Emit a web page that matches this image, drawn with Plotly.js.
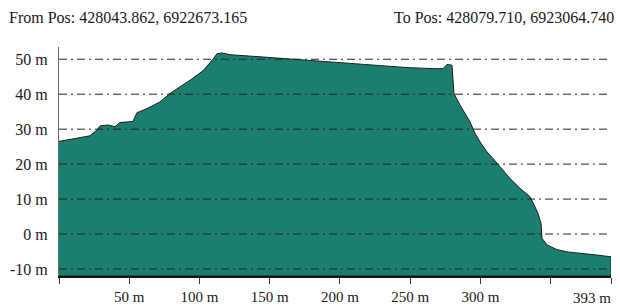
<!DOCTYPE html>
<html>
<head>
<meta charset="utf-8">
<script src="https://cdn.plot.ly/plotly-3.0.1.min.js"></script>
<style>html,body{margin:0;padding:0;background:#fff;}#chart{width:620px;height:307px;}</style>
</head>
<body>
<div id="chart"></div>
<script>
// Profile data: distance along the line (m) and elevation (m)
const distance = [0, 4.3, 15.0, 22.1, 27.1, 29.2, 34.9, 39.9, 43.4, 52.7, 55.5, 62.7, 71.9, 79.0, 93.3, 102.5, 109.6, 112.5, 116.0, 121.7, 143.1, 175.1, 187.2, 198.6, 210.7, 222.8, 234.2, 248.5, 267.7, 273.5, 276.2, 279.8, 281.2, 285.5, 292.6, 296.2, 299.7, 304.7, 309.0, 314.0, 321.1, 328.2, 335.3, 338.9, 341.0, 343.2, 343.9, 347.4, 354.3, 361.7, 373.1, 382.9, 393.0];
const elevation = [26.5, 26.8, 27.7, 28.1, 29.8, 30.9, 31.2, 30.7, 31.9, 32.2, 34.7, 35.9, 37.8, 40.2, 44.0, 46.7, 50.0, 51.6, 51.8, 51.3, 50.7, 49.7, 49.4, 49.0, 48.6, 48.3, 48.0, 47.6, 47.3, 47.3, 48.5, 48.3, 40.2, 36.9, 32.1, 28.8, 26.4, 23.5, 21.6, 19.2, 15.9, 13.1, 10.7, 7.8, 5.9, 3.0, -1.2, -3.1, -4.4, -5.1, -5.5, -6.0, -6.5];

const fromLabel = "From Pos: 428043.862, 6922673.165";
const toLabel = "To Pos: 428079.710, 6923064.740";

const xTickVals = [0, 50, 100, 150, 200, 250, 300, 350, 393];
const xTickText = ["", "50 m", "100 m", "150 m", "200 m", "250 m", "300 m", "", ""];
const endLabel = "393 m";
const yTickVals = [-10, 0, 10, 20, 30, 40, 50];
const yTickText = ["-10 m", "0 m", "10 m", "20 m", "30 m", "40 m", "50 m"];
const yRange = [-12, 53.5];

const xMin = distance[0], xMax = distance[distance.length - 1];

const profile = {
  x: distance.concat([xMax, xMin]),
  y: elevation.concat([yRange[0], yRange[0]]),
  type: 'scatter', mode: 'lines',
  fill: 'toself', fillcolor: '#1b7f6f',
  line: {color: '#1e1e1e', width: 1},
  hoverinfo: 'skip', showlegend: false
};

const gridShapes = yTickVals.map(v => ({
  type: 'line', xref: 'paper', yref: 'y', x0: 0, x1: 1, y0: v, y1: v,
  layer: 'above', line: {color: '#222', width: 1, dash: '8px,4px,2px,4px'}
}));

const fam = 'Liberation Serif, Times New Roman, serif';
const f = (size) => ({family: fam, size: size, color: '#1a1a1a'});

const layout = {
  width: 620, height: 307,
  margin: {l: 59, r: 9, t: 47, b: 31, pad: 0},
  paper_bgcolor: '#fff', plot_bgcolor: '#fff',
  showlegend: false,
  font: f(15),
  xaxis: {
    range: [xMin, xMax], tickmode: 'array', tickvals: xTickVals, ticktext: xTickText,
    showgrid: false, zeroline: false, showline: true, linecolor: '#111', linewidth: 2,
    ticks: 'outside', ticklen: 6, tickcolor: '#333', tickwidth: 1,
    tickfont: f(15), fixedrange: true
  },
  yaxis: {
    range: yRange, tickmode: 'array', tickvals: yTickVals, ticktext: yTickText,
    showgrid: false, zeroline: false, showline: true, linecolor: '#666', linewidth: 1,
    ticks: '', ticklabelstandoff: 7,
    tickfont: f(16), fixedrange: true
  },
  shapes: gridShapes,
  annotations: [
    {text: fromLabel, xref: 'paper', yref: 'paper', x: -0.094, y: 1.131, xanchor: 'left', yanchor: 'middle', showarrow: false, font: f(16)},
    {text: toLabel, xref: 'paper', yref: 'paper', x: 1.009, y: 1.131, xanchor: 'right', yanchor: 'middle', showarrow: false, font: f(16)},
    {text: endLabel, xref: 'x', yref: 'paper', x: xMax, y: 0, yshift: -22, xanchor: 'right', yanchor: 'middle', showarrow: false, xshift: 2, font: f(15)}
  ]
};

Plotly.newPlot('chart', [profile], layout, {displayModeBar: false, staticPlot: true});
</script>
</body>
</html>
